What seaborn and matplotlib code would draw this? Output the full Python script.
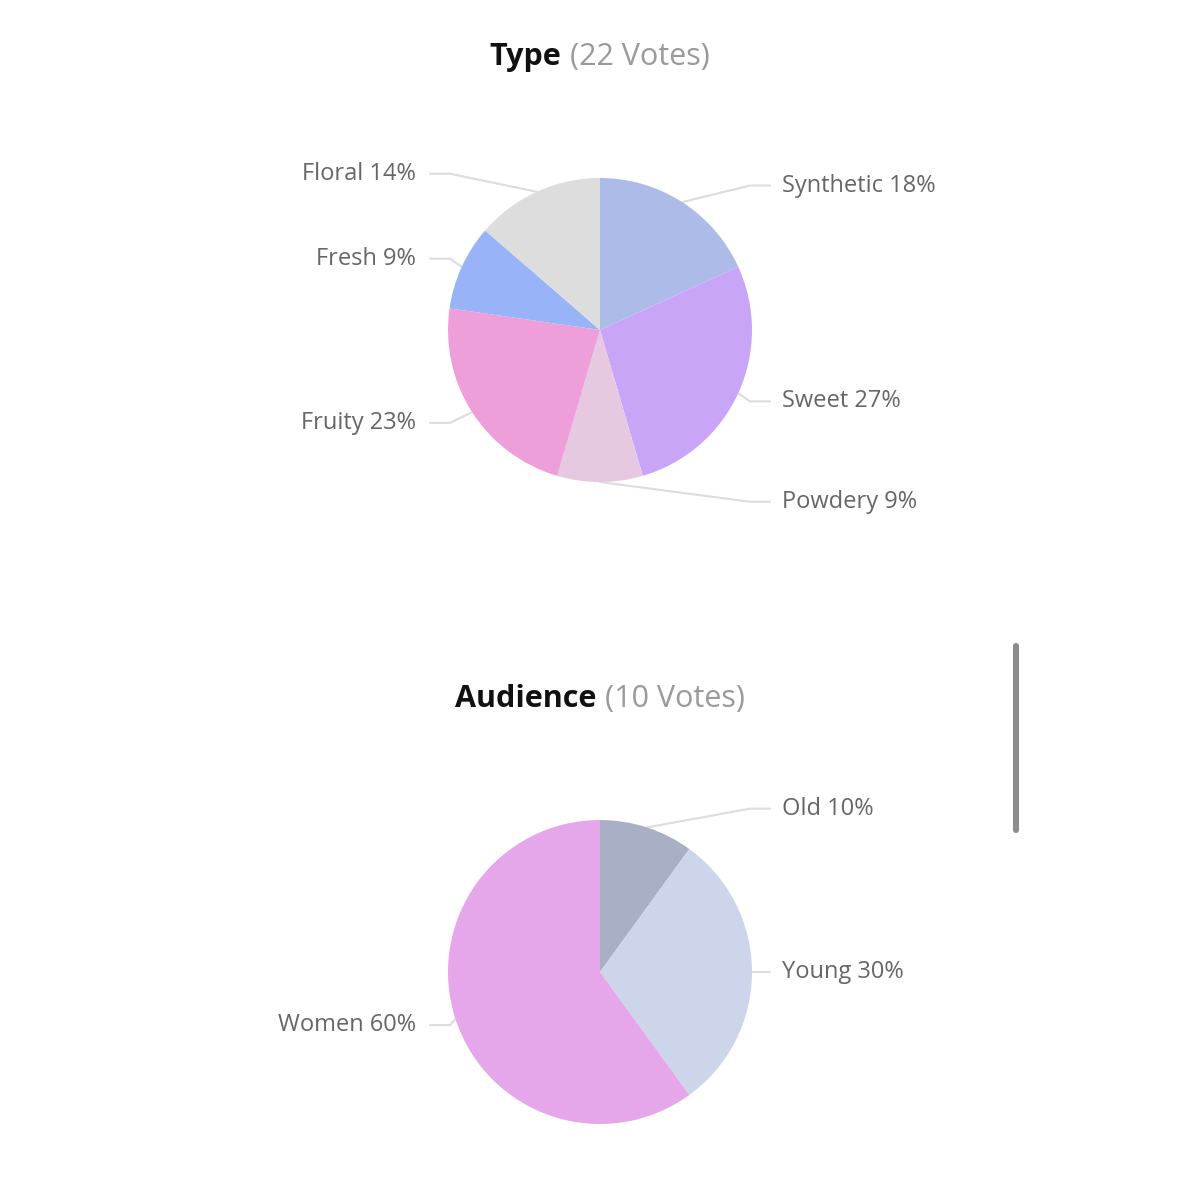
import numpy as np
import matplotlib
matplotlib.use("Agg")
import matplotlib.pyplot as plt
import seaborn as sns
from matplotlib.patches import FancyBboxPatch

# poll results
type_labels = ["Synthetic", "Sweet", "Powdery", "Fruity", "Fresh", "Floral"]
type_votes = [4, 6, 2, 5, 2, 3]
type_colors = ["#adbbe8", "#c9a5f7", "#e6c9e1", "#ee9fd9", "#98b3f8", "#dddddd"]

audience_labels = ["Old", "Young", "Women"]
audience_votes = [1, 3, 6]
audience_colors = ["#a9afc5", "#cdd5ea", "#e5a6ea"]

sns.set_theme(style="white")
plt.rcParams["font.family"] = ["Open Sans", "DejaVu Sans"]

W = H = 1200
R_PX = 152  # pie radius in pixels
fig = plt.figure(figsize=(12, 12), dpi=100)
fig.patch.set_facecolor("white")


def draw_pie(cy_px, title, labels, votes, colors):
    span = 5.0  # data units across the axes
    size = span * R_PX / W
    ax = fig.add_axes([0.5 - size / 2, 1 - cy_px / H - size / 2, size, size])

    wedges, _ = ax.pie(votes, colors=sns.color_palette(colors), startangle=90,
                       counterclock=False, radius=1.0,
                       wedgeprops=dict(linewidth=0, zorder=3))
    # pie() resets the limits, so fix them afterwards
    ax.set_xlim(-span / 2, span / 2)
    ax.set_ylim(-span / 2, span / 2)
    ax.set_aspect("equal")
    ax.axis("off")

    total = sum(votes)
    for w, lab, v in zip(wedges, labels, votes):
        mid = np.deg2rad((w.theta1 + w.theta2) / 2)
        ex, ey = np.cos(mid), np.sin(mid)
        side = 1 if ex >= -0.01 else -1
        ly = 1.13 * ey
        anchor_x = side * 170 / R_PX
        knee_x = side * max(150 / R_PX, abs(ex))
        ax.plot([ex, knee_x, anchor_x], [ey, ly, ly], color="#dcdcdc",
                lw=1.5, zorder=1, solid_capstyle="round")
        text_x = side * (182 if side > 0 else 184) / R_PX
        ax.text(text_x, ly, f"{lab} {round(100 * v / total)}%",
                ha="left" if side > 0 else "right", va="center",
                fontsize=17, color="#666666")

    # title: bold name + grey vote count, centred together
    ty = 1 - (cy_px - 273) / H
    t1 = fig.text(0.5, ty, title, fontsize=22, fontweight="bold",
                  color="#111111", ha="left", va="center")
    t2 = fig.text(0.5, ty, f"({total} Votes)", fontsize=22,
                  color="#9a9a9a", ha="left", va="center")
    r = fig.canvas.get_renderer()
    w1 = t1.get_window_extent(r).width
    w2 = t2.get_window_extent(r).width
    gap = 9
    start = (W - (w1 + gap + w2)) / 2
    t1.set_x(start / W)
    t2.set_x((start + w1 + gap) / W)


draw_pie(330, "Type", type_labels, type_votes, type_colors)
draw_pie(972, "Audience", audience_labels, audience_votes, audience_colors)

# scrollbar
fig.patches.append(FancyBboxPatch((1013 / W, 1 - 833 / H), 6 / W, 190 / H,
                                  boxstyle="round,pad=0,rounding_size=0.0025",
                                  transform=fig.transFigure, facecolor="#8c8c8c",
                                  edgecolor="none"))

fig.savefig("out.png", dpi=100, facecolor="white")
